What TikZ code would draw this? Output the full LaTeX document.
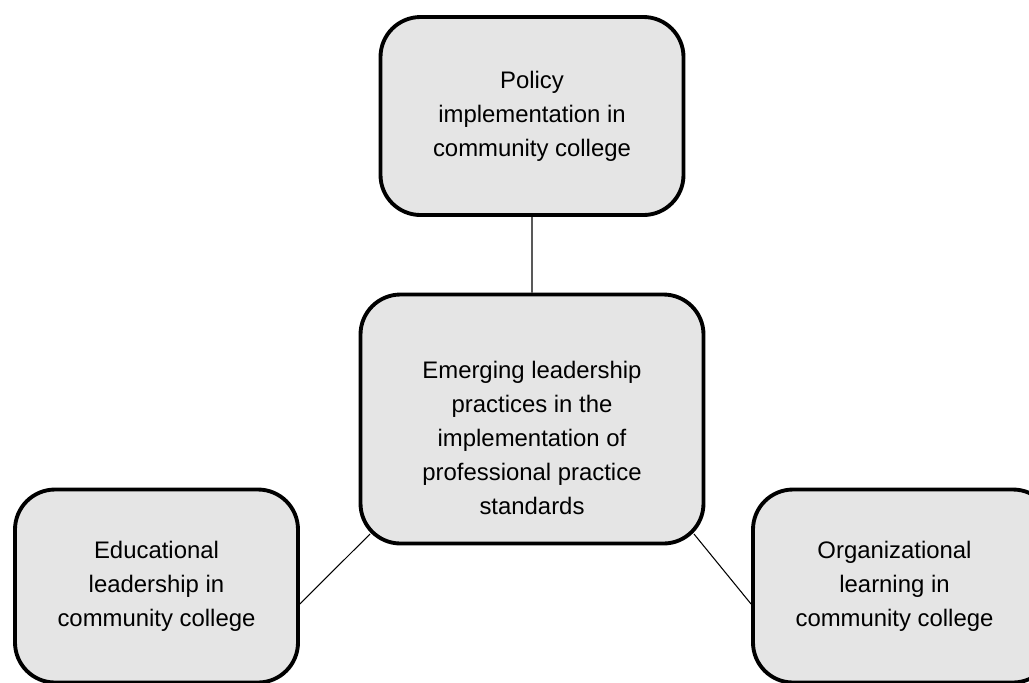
\documentclass[tikz,border=0pt]{standalone}
\usepackage{fontspec}
\setmainfont{Liberation Sans}
\usetikzlibrary{positioning}
\usetikzlibrary{calc}
\tikzset{MapStyle/.style={
    on grid,% place nodes by their centres
    every node/.style={font=\fontsize{13.6}{19.4}\selectfont, align=center},
    topic/.style={% the rounded grey boxes
      draw=black,
      line width=2.2pt,
      fill=black!10,
      rounded corners=0.8cm
    },
    link/.style={draw=black, line width=0.6pt}
  }
}

\begin{document}
\begin{tikzpicture}[MapStyle]
  \useasboundingbox (0,0) rectangle (20.58,-13.64);
  \node[topic,minimum width=6.86cm,minimum height=4.98cm] (core) at (10.64,-8.38) {};
  \node (coretext) at ([yshift=-0.38cm]core.center)
    {Emerging leadership\\practices in the\\implementation of\\professional practice\\standards};
  \node[topic,minimum width=6.06cm,minimum height=3.96cm,above=6.06cm of core] (policy)
    {Policy\\implementation in\\community college};
  \node[topic,minimum width=5.66cm,minimum height=3.86cm,below left=3.34cm and 7.51cm of core] (edu)
    {Educational\\leadership in\\community college};
  \node[topic,minimum width=6.0cm,minimum height=3.86cm,below right=3.34cm and 7.42cm of core] (org)
    {};
  \node (orgtext) at ([xshift=-0.17cm]org.center) {Organizational\\learning in\\community college};
  \path[link] (policy) -- (core)
              ([yshift=-0.36cm]edu.east) -- ([xshift=0.23cm,yshift=0.23cm]core.south west)
              ([yshift=-0.36cm]org.west) -- ([xshift=-0.23cm,yshift=0.23cm]core.south east)
  ;
\end{tikzpicture}
\end{document}
